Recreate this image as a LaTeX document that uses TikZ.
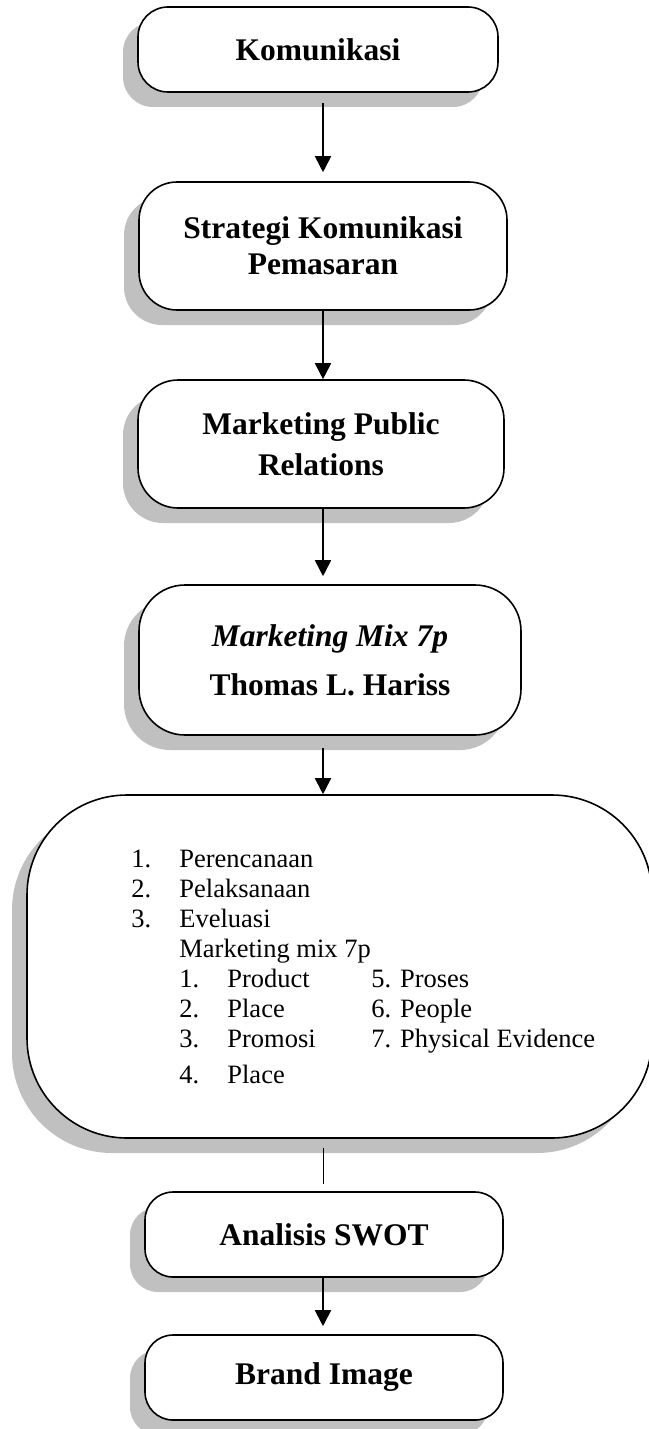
\documentclass[tikz,border=0pt]{standalone}
\usepackage{fontspec}
\setmainfont{Liberation Serif}
\usetikzlibrary{shadows,arrows.meta}
\definecolor{shadowgray}{RGB}{192,192,192}
\newcommand\titlefont{\fontsize{15.75pt}{20.5pt}\selectfont\bfseries}
\newcommand\listfont{\fontsize{13.25pt}{15pt}\selectfont}
\tikzset{
  box/.style={draw=black, line width=0.8pt, fill=white, rectangle, inner sep=0pt,
     drop shadow={shadow xshift=-7.5pt, shadow yshift=-7.5pt, fill=shadowgray, opacity=1},
     font=\titlefont, align=center},
  arr/.style={line width=0.9pt, -{Triangle[length=8pt,width=8pt]}},
  plain/.style={line width=0.5pt},
}
\begin{document}
\begin{tikzpicture}[x=0.5pt,y=-0.5pt]
\useasboundingbox (0,0) rectangle (648,1429);
\coordinate (ax) at (323,0);
\node[box, minimum width=180pt, minimum height=42.5pt, rounded corners=15pt] (b1) at (318,49.5) {Komunikasi};
\node[box, minimum width=184pt, minimum height=64pt, rounded corners=19pt] (b2) at (323,246) {Strategi Komunikasi\\[-2.5pt]Pemasaran};
\node[box, minimum width=183pt, minimum height=64pt, rounded corners=20pt] (b3) at (321,444) {Marketing Public\\Relations};
\node[box, minimum width=191pt, minimum height=75pt, rounded corners=23pt] (b4) at (330,660) {\textit{Marketing Mix 7p}\\[4pt]Thomas L. Hariss};
\node[box, minimum width=312.5pt, minimum height=171.5pt, rounded corners=50pt] (b5) at (339.5,966.5) {};
\node[anchor=north west, inner sep=0pt, font=\listfont, align=left] (list) at (131,846) {%
\setlength{\tabcolsep}{0pt}%
\begin{tabular}{p{24pt}p{24pt}p{72pt}l}
1. & \multicolumn{3}{l}{Perencanaan}\\
2. & \multicolumn{3}{l}{Pelaksanaan}\\
3. & \multicolumn{3}{l}{Eveluasi}\\
   & \multicolumn{3}{l}{Marketing mix 7p}\\
   & 1. & Product & 5. Proses\\
   & 2. & Place & 6. People\\
   & 3. & Promosi & 7. Physical Evidence\\[3pt]
   & 4. & Place & \\
\end{tabular}};
\node[box, minimum width=179pt, minimum height=42.5pt, rounded corners=14pt] (b6) at (324,1234.5) {Analisis SWOT};
\node[box, minimum width=179pt, minimum height=42.5pt, rounded corners=14pt] (b7) at (324,1377.5) {Brand Image};
\draw[arr, shorten <=5pt, shorten >=4.5pt] (b1.south -| ax) -- (b2.north -| ax);
\draw[arr] (b2.south -| ax) -- (b3.north -| ax);
\draw[arr, shorten >=4pt] (b3.south -| ax) -- (b4.north -| ax);
\draw[arr, shorten <=6pt] (b4.south -| ax) -- (b5.north -| ax);
\draw[plain, shorten <=4.5pt, shorten >=3.5pt] (b5.south -| ax) -- (b6.north -| ax);
\draw[arr, shorten >=4pt] (b6.south -| ax) -- (b7.north -| ax);
\end{tikzpicture}
\end{document}
